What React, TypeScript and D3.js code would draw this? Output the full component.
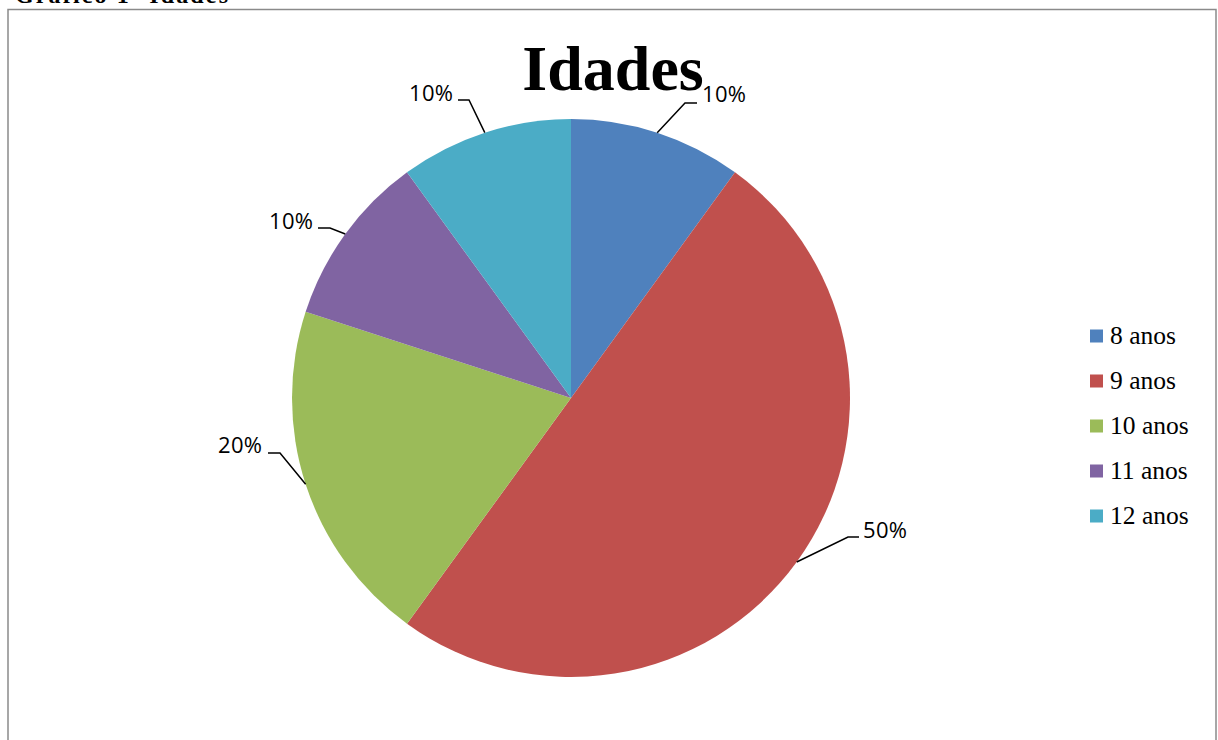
import React from "react";
import * as d3 from "d3";

const categories = ["8 anos", "9 anos", "10 anos", "11 anos", "12 anos"];
const values = [10, 50, 20, 10, 10];
const labels = ["10%", "50%", "20%", "10%", "10%"];
const colors = ["#4F81BD", "#C0504D", "#9BBB59", "#8064A2", "#4BACC6"];

// layout for the data labels: elbow point and text anchor (x, baseline y)
const labelLayout = [
  { elbow: [685, 103], end: [697, 103], text: [702, 102] },
  { elbow: [848, 537], end: [859, 537], text: [863, 538] },
  { elbow: [280, 453], end: [268, 453], text: [218, 453] },
  { elbow: [330, 228], end: [318, 228], text: [269, 229] },
  { elbow: [469, 100], end: [458, 100], text: [409, 101] },
];

export default function App() {
  const W = 1218;
  const H = 740;
  const cx = 571;
  const cy = 398;
  const r = 279;

  const pie = d3.pie<number>().sort(null).value((d) => d);
  const arcs = pie(values);
  const arcGen = d3.arc<d3.PieArcDatum<number>>().innerRadius(0).outerRadius(r);

  const legendY = d3
    .scalePoint<string>()
    .domain(categories)
    .range([336, 516]);

  return (
    <svg
      width={W}
      height={H}
      style={{ position: "absolute", left: 0, top: 0, background: "#fff" }}
    >
      <rect x={0} y={0} width={W} height={H} fill="#fff" />
      <text
        x={15}
        y={3}
        fontFamily="'Liberation Serif', 'Times New Roman', serif"
        fontWeight="bold"
        fontSize={24}
        textLength={213}
        fill="#000"
      >
        Gráfico 1- Idades
      </text>
      <rect
        x={8}
        y={9.5}
        width={1208}
        height={760}
        fill="none"
        stroke="#8a8a8a"
        strokeWidth={1.5}
      />
      <text
        x={613}
        y={90}
        textAnchor="middle"
        fontFamily="'Liberation Serif', 'Times New Roman', serif"
        fontWeight="bold"
        fontSize={64}
        fill="#000"
      >
        Idades
      </text>
      <g transform={`translate(${cx},${cy})`}>
        {arcs.map((a, i) => (
          <path key={i} d={arcGen(a) || ""} fill={colors[i]} />
        ))}
      </g>
      {arcs.map((a, i) => {
        const mid = (a.startAngle + a.endAngle) / 2;
        const sx = cx + r * Math.sin(mid);
        const sy = cy - r * Math.cos(mid);
        const L = labelLayout[i];
        return (
          <g key={i}>
            <polyline
              points={`${sx},${sy} ${L.elbow[0]},${L.elbow[1]} ${L.end[0]},${L.end[1]}`}
              fill="none"
              stroke="#000"
              strokeWidth={1.5}
            />
            <text
              x={L.text[0]}
              y={L.text[1]}
              fontFamily="'Open Sans', 'Noto Sans', sans-serif"
              fontSize={22}
              textLength={44}
              fill="#000"
            >
              {labels[i]}
            </text>
          </g>
        );
      })}
      {categories.map((c, i) => {
        const y = legendY(c) as number;
        return (
          <g key={c}>
            <rect x={1090} y={y - 6.5} width={13} height={13} fill={colors[i]} />
            <text
              x={1110}
              y={y + 8}
              fontFamily="'Liberation Serif', 'Times New Roman', serif"
              fontSize={25.5}
              fill="#000"
            >
              {c}
            </text>
          </g>
        );
      })}
    </svg>
  );
}
